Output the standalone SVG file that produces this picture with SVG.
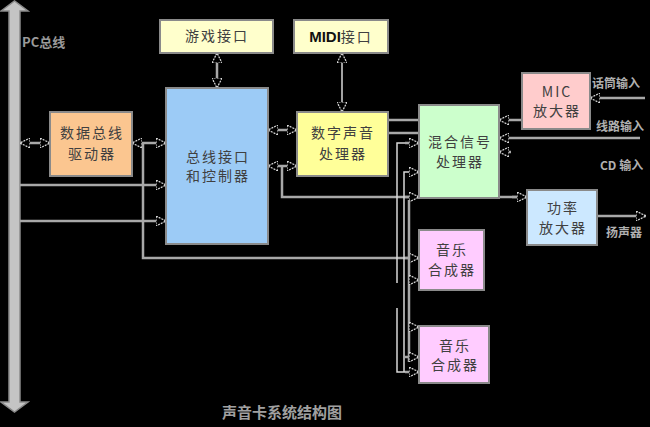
<svg xmlns="http://www.w3.org/2000/svg" width="650" height="427" viewBox="0 0 650 427">
<style>
.box{stroke:#8a8a8a;stroke-width:2}
.t{font-family:"Noto Sans CJK SC","Liberation Serif",serif;font-size:14px;fill:#404040;text-anchor:middle;letter-spacing:2px}
.lbl{font-family:"Noto Sans CJK SC","Liberation Sans",sans-serif;font-size:12px;font-weight:bold;fill:#b0b0b0}
.ln{fill:none;stroke:#a8a8a8;stroke-width:2.5}
.ln2{fill:none;stroke:#d8d8d8;stroke-width:1.5}
</style>
<defs>
<marker id="ah" viewBox="0 0 10 10" refX="10" refY="5" markerWidth="10" markerHeight="10" markerUnits="userSpaceOnUse" orient="auto-start-reverse">
<path d="M0,0 L10,5 L0,10 Z" fill="#000" stroke="#dcdcdc" stroke-width="1.2" stroke-dasharray="2 1"/>
</marker>
</defs>
<rect width="650" height="427" fill="#000"/>

<g id="pcbus">
<path d="M1,11 L14.5,1 L28,11 L20,11 L20,402 L28,402 L14.5,412 L1,402 L9,402 L9,11 Z" fill="#c4c4c4" stroke="#8a8a8a" stroke-width="1.5"/>
<text x="22" y="47" font-family="'Noto Sans CJK SC','Liberation Sans',sans-serif" font-size="13" font-weight="bold" fill="#9a9a9a">PC总线</text>
</g>

<g id="connectors">
<line class="ln" x1="20" y1="143" x2="50" y2="143" marker-start="url(#ah)" marker-end="url(#ah)"/>
<line class="ln" x1="132" y1="143" x2="166" y2="143" marker-start="url(#ah)" marker-end="url(#ah)"/>
<polyline class="ln" points="143,143 143,258 419,258"/>
<line x1="405" y1="258" x2="419" y2="258" class="ln" marker-end="url(#ah)"/>
<line class="ln" x1="20" y1="185" x2="166" y2="185" marker-end="url(#ah)"/>
<line class="ln" x1="20" y1="221" x2="166" y2="221" marker-end="url(#ah)"/>
<line class="ln" x1="217" y1="53" x2="217" y2="88" marker-start="url(#ah)" marker-end="url(#ah)"/>
<line class="ln2" x1="342" y1="53" x2="342" y2="112" marker-start="url(#ah)" marker-end="url(#ah)"/>
<line class="ln" x1="268" y1="130" x2="297" y2="130" marker-start="url(#ah)" marker-end="url(#ah)"/>
<line class="ln" x1="268" y1="166" x2="297" y2="166" marker-start="url(#ah)" marker-end="url(#ah)"/>
<polyline class="ln" points="282,166 282,197 419,197"/>
<line class="ln" x1="405" y1="197" x2="419" y2="197" marker-end="url(#ah)"/>
<line class="ln" x1="388" y1="120" x2="419" y2="120"/>
<line class="ln" x1="388" y1="133" x2="419" y2="133"/>
<polyline class="ln2" points="397,283 397,143 419,143"/>
<line class="ln" x1="405" y1="143" x2="419" y2="143" marker-end="url(#ah)"/>
<polyline class="ln2" points="397,308 397,372 419,372"/>
<line class="ln" x1="405" y1="372" x2="419" y2="372" marker-end="url(#ah)"/>
<polyline class="ln2" points="404,372 404,172 419,172"/>
<line class="ln" x1="409" y1="172" x2="419" y2="172" marker-end="url(#ah)"/>
<line class="ln" x1="409" y1="200" x2="409" y2="362"/>
<line class="ln" x1="409" y1="280" x2="419" y2="280" marker-end="url(#ah)"/>
<line class="ln" x1="409" y1="327" x2="419" y2="327" marker-end="url(#ah)"/>
<line class="ln" x1="404" y1="357" x2="419" y2="357" marker-end="url(#ah)"/>
<line class="ln" x1="522" y1="120" x2="499" y2="120" marker-end="url(#ah)"/>
<line class="ln" x1="640" y1="138" x2="499" y2="138" marker-end="url(#ah)"/>
<line class="ln" x1="511" y1="152" x2="499" y2="152" marker-end="url(#ah)"/>
<polyline class="ln" points="499,197 527,197"/>
<line class="ln" x1="512" y1="197" x2="527" y2="197" marker-end="url(#ah)"/>
<line class="ln" x1="645" y1="98" x2="590" y2="98" marker-end="url(#ah)"/>
<line class="ln" x1="597" y1="216" x2="646" y2="216" marker-end="url(#ah)"/>
</g>

<g id="driver">
<rect class="box" x="50" y="112" width="82" height="64" fill="#FBC690"/>
<text class="t" x="92" y="138" fill="#5a4a3a">数据总线</text>
<text class="t" x="92" y="159">驱动器</text>
</g>
<g id="busctrl">
<rect class="box" x="166" y="88" width="102" height="156" fill="#9CCBF6"/>
<text class="t" x="218" y="162">总线接口</text>
<text class="t" x="218" y="181">和控制器</text>
</g>
<g id="game">
<rect class="box" x="160" y="20" width="113" height="33" fill="#FFFFCC"/>
<text class="t" x="217" y="41">游戏接口</text>
</g>
<g id="midi">
<rect class="box" x="294" y="20" width="94" height="33" fill="#FFFFCC"/>
<text class="t" x="341" y="42"><tspan font-family="'Liberation Sans',sans-serif" font-weight="bold" font-size="15" letter-spacing="0" fill="#111">MIDI</tspan>接口</text>
</g>
<g id="dsp">
<rect class="box" x="297" y="112" width="91" height="64" fill="#FFFF99"/>
<text class="t" x="343" y="138">数字声音</text>
<text class="t" x="343" y="159">处理器</text>
</g>
<g id="mixer">
<rect class="box" x="419" y="105" width="80" height="93" fill="#CCFFCC"/>
<text class="t" x="460" y="147">混合信号</text>
<text class="t" x="460" y="167">处理器</text>
</g>
<g id="mic">
<rect class="box" x="522" y="73" width="68" height="56" fill="#FFCCCC"/>
<text class="t" x="557" y="97" font-family="'Liberation Serif',serif" letter-spacing="1">MIC</text>
<text class="t" x="557" y="116">放大器</text>
</g>
<g id="power">
<rect class="box" x="527" y="190" width="70" height="55" fill="#CCE8FF"/>
<text class="t" x="563" y="213">功率</text>
<text class="t" x="563" y="233">放大器</text>
</g>
<g id="synth1">
<rect class="box" x="419" y="230" width="65" height="60" fill="#FFCCFF"/>
<text class="t" x="452" y="255">音乐</text>
<text class="t" x="452" y="275">合成器</text>
</g>
<g id="synth2">
<rect class="box" x="419" y="326" width="70" height="57" fill="#FFCCFF"/>
<text class="t" x="455" y="351">音乐</text>
<text class="t" x="455" y="370">合成器</text>
</g>

<g id="labels">
<text class="lbl" x="592" y="88">话筒输入</text>
<text class="lbl" x="596" y="131">线路输入</text>
<text class="lbl" x="600" y="170">CD 输入</text>
<text class="lbl" x="606" y="237">扬声器</text>
<text x="222" y="418" font-family="'Noto Sans CJK SC','Liberation Sans',sans-serif" font-size="15" font-weight="bold" fill="#a0a0a0">声音卡系统结构图</text>
</g>
</svg>
